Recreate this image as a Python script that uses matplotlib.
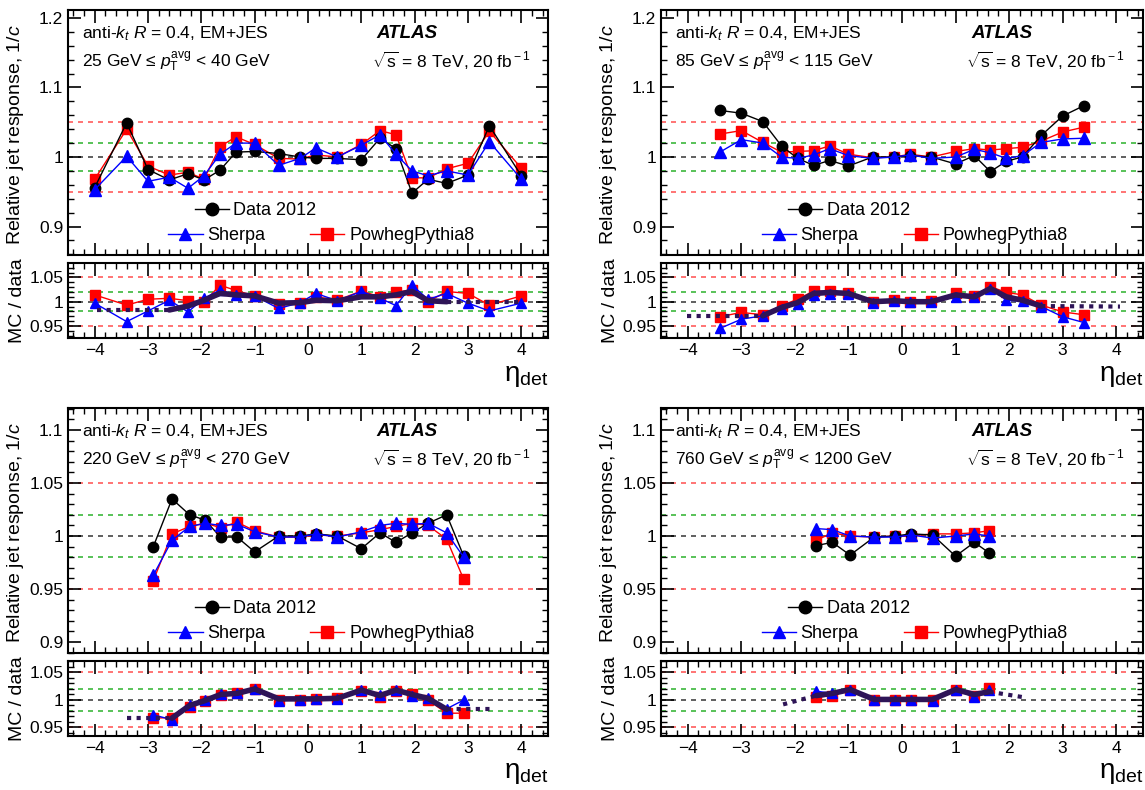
import numpy as np
import matplotlib
matplotlib.use("Agg")
import matplotlib.pyplot as plt
from matplotlib.ticker import MultipleLocator, FuncFormatter

plt.rcParams['font.family'] = ['Liberation Sans', 'DejaVu Sans']
plt.rcParams['mathtext.fontset'] = 'custom'
plt.rcParams['mathtext.rm'] = 'Liberation Sans'
plt.rcParams['mathtext.it'] = 'Liberation Sans:italic'
plt.rcParams['mathtext.bf'] = 'Liberation Sans:bold'

# ---------------------------
# data
# ---------------------------
# 25 < pT < 40 GeV
eta_a = [-4.0, -3.4, -3.0, -2.6, -2.25, -1.95, -1.65, -1.35, -1.0, -0.55, -0.15,
         0.15, 0.55, 1.0, 1.35, 1.65, 1.95, 2.25, 2.6, 3.0, 3.4, 4.0]
data_a = [0.956, 1.049, 0.982, 0.967, 0.976, 0.967, 0.981, 1.007, 1.008, 1.005, 1.000,
          0.998, 0.998, 0.996, 1.027, 1.012, 0.948, 0.968, 0.962, 0.974, 1.045, 0.973]
sherpa_a = [0.953, 1.001, 0.965, 0.971, 0.955, 0.973, 1.004, 1.020, 1.020, 0.988, 0.998,
            1.013, 1.000, 1.017, 1.032, 1.004, 0.980, 0.973, 0.980, 0.974, 1.022, 0.968]
powheg_a = [0.968, 1.040, 0.987, 0.974, 0.978, 0.968, 1.015, 1.029, 1.018, 0.998, 0.997,
            1.003, 1.000, 1.018, 1.038, 1.032, 0.970, 0.970, 0.983, 0.991, 1.037, 0.984]
r_sherpa_a = [0.997, 0.959, 0.981, 1.003, 0.979, 1.007, 1.024, 1.014, 1.012, 0.986, 0.998,
              1.017, 1.002, 1.021, 1.007, 0.992, 1.034, 1.005, 1.017, 0.997, 0.981, 0.997]
r_powheg_a = [1.014, 0.993, 1.005, 1.007, 1.002, 0.999, 1.034, 1.023, 1.012, 0.995, 0.997,
              1.010, 1.003, 1.022, 1.010, 1.019, 1.025, 1.000, 1.021, 1.017, 0.993, 1.012]
calib_eta_a = [-2.6, -2.25, -1.95, -1.65, -1.35, -1.0, -0.55, -0.15, 0.15, 0.55, 1.0,
               1.35, 1.65, 1.95, 2.25, 2.6]
calib_a = [0.983, 0.991, 1.003, 1.017, 1.014, 1.012, 0.997, 0.998, 1.003, 1.002, 1.010,
           1.010, 1.014, 1.021, 1.002, 1.000]
calib_ends_a = [(-3.95, 0.983), (4.0, 1.000)]
err_a = 0.006

# 85 < pT < 115 GeV
eta_b = [-3.4, -3.0, -2.6, -2.25, -1.95, -1.65, -1.35, -1.0, -0.55, -0.15,
         0.15, 0.55, 1.0, 1.35, 1.65, 1.95, 2.25, 2.6, 3.0, 3.4]
data_b = [1.067, 1.063, 1.051, 1.016, 0.998, 0.988, 0.995, 0.987, 1.000, 1.000,
          1.002, 1.000, 0.990, 1.002, 0.979, 0.994, 1.000, 1.031, 1.059, 1.074]
sherpa_b = [1.007, 1.025, 1.020, 1.000, 0.998, 1.003, 1.012, 1.002, 0.998, 1.000,
            1.003, 0.998, 1.000, 1.011, 1.006, 0.998, 1.002, 1.021, 1.026, 1.027]
powheg_b = [1.033, 1.038, 1.021, 1.007, 1.008, 1.009, 1.016, 1.004, 0.999, 1.000,
            1.004, 1.000, 1.008, 1.012, 1.010, 1.012, 1.014, 1.023, 1.036, 1.043]
r_sherpa_b = [0.945, 0.964, 0.971, 0.985, 0.995, 1.014, 1.016, 1.015, 0.998, 1.001,
              0.999, 0.999, 1.010, 1.009, 1.027, 1.003, 1.001, 0.990, 0.969, 0.957]
r_powheg_b = [0.969, 0.978, 0.973, 0.992, 1.005, 1.022, 1.021, 1.017, 0.999, 1.003,
              1.000, 1.001, 1.017, 1.012, 1.031, 1.019, 1.014, 0.993, 0.979, 0.973]
calib_eta_b = [-2.6, -2.25, -1.95, -1.65, -1.35, -1.0, -0.55, -0.15, 0.15, 0.55,
               1.0, 1.35, 1.65, 1.95, 2.25, 2.6]
calib_b = [0.971, 0.988, 0.998, 1.017, 1.019, 1.017, 1.000, 1.002, 1.000, 1.000,
           1.014, 1.010, 1.027, 1.010, 1.003, 0.991]
calib_ends_b = [(-4.02, 0.971), (4.07, 0.990)]
err_b = 0.002

# 220 < pT < 270 GeV
eta_c = [-2.9, -2.55, -2.22, -1.93, -1.64, -1.33, -1.0, -0.55, -0.15, 0.15, 0.55,
         1.0, 1.35, 1.65, 1.95, 2.25, 2.6, 2.92]
data_c = [0.990, 1.035, 1.020, 1.015, 0.999, 0.999, 0.985, 1.000, 1.000, 1.002, 1.000,
          0.988, 1.003, 0.994, 1.003, 1.012, 1.020, 0.981]
sherpa_c = [0.963, 0.996, 1.009, 1.012, 1.010, 1.011, 1.004, 0.999, 0.999, 1.002, 0.999,
            1.004, 1.010, 1.012, 1.011, 1.012, 1.003, 0.980]
powheg_c = [0.958, 1.002, 1.009, 1.012, 1.008, 1.013, 1.005, 0.999, 0.999, 1.001, 1.000,
            1.003, 1.006, 1.009, 1.012, 1.010, 0.997, 0.959]
r_sherpa_c = [0.973, 0.964, 0.990, 1.000, 1.010, 1.012, 1.020, 0.999, 1.000, 1.001, 1.001,
              1.018, 1.009, 1.019, 1.007, 1.003, 0.984, 1.000]
r_powheg_c = [0.967, 0.968, 0.988, 0.998, 1.009, 1.012, 1.020, 1.000, 1.000, 1.001, 1.003,
              1.016, 1.005, 1.016, 1.010, 1.000, 0.976, 0.976]
calib_eta_c = [-2.55, -2.22, -1.93, -1.64, -1.33, -1.0, -0.55, -0.15, 0.15, 0.55,
               1.0, 1.35, 1.65, 1.95, 2.25, 2.6]
calib_c = [0.967, 0.990, 0.999, 1.010, 1.012, 1.020, 1.002, 1.002, 1.002, 1.003,
           1.018, 1.008, 1.018, 1.010, 1.003, 0.983]
calib_ends_c = [(-3.39, 0.967), (3.43, 0.983)]
err_c = 0.003

# 760 < pT < 1200 GeV
eta_d = [-1.6, -1.3, -0.97, -0.52, -0.13, 0.17, 0.57, 1.0, 1.35, 1.63]
data_d = [0.991, 0.994, 0.982, 0.999, 1.000, 1.002, 1.001, 0.981, 0.994, 0.984]
sherpa_d = [1.007, 1.006, 1.000, 0.999, 0.999, 1.001, 0.998, 1.000, 1.002, 1.000]
powheg_d = [0.996, 1.003, 1.000, 0.999, 1.000, 1.000, 1.002, 1.002, 1.003, 1.005]
r_sherpa_d = [1.016, 1.012, 1.019, 1.000, 1.000, 1.000, 0.998, 1.019, 1.005, 1.019]
r_powheg_d = [1.005, 1.008, 1.019, 1.000, 1.000, 1.000, 1.000, 1.019, 1.007, 1.022]
calib_eta_d = eta_d
calib_d = [1.008, 1.012, 1.019, 1.001, 1.001, 1.001, 1.001, 1.019, 1.010, 1.015]
calib_ends_d = [(-2.22, 0.992), (2.27, 1.005)]
err_d = 0.002

pt_labels = [r'25 GeV ≤ $p_{\rm T}^{\rm avg}$ < 40 GeV',
             r'85 GeV ≤ $p_{\rm T}^{\rm avg}$ < 115 GeV',
             r'220 GeV ≤ $p_{\rm T}^{\rm avg}$ < 270 GeV',
             r'760 GeV ≤ $p_{\rm T}^{\rm avg}$ < 1200 GeV']

# ---------------------------
# style
# ---------------------------
W, H = 1145, 790
C_DATA = 'black'
C_SHERPA = '#0000ff'
C_POWHEG = '#ff0000'
C_CALIB = '#2e1457'
ref_lines = [(1.05, '#ff5c5c'), (1.02, '#3cb83c'), (1.0, '#444444'),
             (0.98, '#3cb83c'), (0.95, '#ff5c5c')]

fmt = FuncFormatter(lambda v, p: '%g' % round(v, 3))


def px_rect(x0, y0, x1, y1):
    return [x0 / W, 1 - y1 / H, (x1 - x0) / W, (y1 - y0) / H]


def style_axes(ax, major, minor):
    ax.set_xlim(-4.5, 4.5)
    ax.xaxis.set_major_locator(MultipleLocator(1))
    ax.xaxis.set_minor_locator(MultipleLocator(0.2))
    ax.yaxis.set_major_locator(MultipleLocator(major))
    ax.yaxis.set_minor_locator(MultipleLocator(minor))
    ax.yaxis.set_major_formatter(fmt)
    ax.tick_params(which='both', direction='in', top=True, right=True, labelsize=12.5)
    ax.tick_params(which='major', length=9, width=1.2)
    ax.tick_params(which='minor', length=4.5, width=1.0)
    for s in ax.spines.values():
        s.set_linewidth(1.5)
    for y, c in ref_lines:
        ax.axhline(y, color=c, ls=(0, (3, 3)), lw=1.2, zorder=1)


def draw_panel(x0, x1, ytop, main_ylim, main_major, ratio_ylim,
               eta, data, sherpa, powheg, r_sherpa, r_powheg,
               calib_eta, calib, calib_ends, err, ptlab):
    ax = fig.add_axes(px_rect(x0, ytop, x1, ytop + 245))
    axr = fig.add_axes(px_rect(x0, ytop + 253, x1, ytop + 328))

    style_axes(ax, main_major, main_major / 5)
    ax.set_ylim(*main_ylim)
    ax.tick_params(labelbottom=False)
    kw = dict(lw=1.0, elinewidth=1.0, capsize=0)
    ax.errorbar(eta, data, yerr=err, color=C_DATA, marker='o', ms=7.5, zorder=4, **kw)
    ax.errorbar(eta, powheg, yerr=err, color=C_POWHEG, marker='s', ms=7.5, zorder=3, **kw)
    ax.errorbar(eta, sherpa, yerr=err, color=C_SHERPA, marker='^', ms=8, zorder=5, **kw)
    ax.set_ylabel('Relative jet response, 1/$c$', fontsize=14)
    ax.yaxis.set_label_coords(-0.088, 0.49)

    ax.text(0.03, 0.905, r'anti-$k_t$ $R$ = 0.4, EM+JES', transform=ax.transAxes,
            fontsize=12.5, va='center')
    ax.text(0.03, 0.79, ptlab, transform=ax.transAxes, fontsize=12.5, va='center')
    ax.text(0.643, 0.905, 'ATLAS', transform=ax.transAxes, fontsize=13.5,
            fontweight='bold', fontstyle='italic', va='center')
    ax.text(0.633, 0.79, r'$\sqrt{\rm s}$ = 8 TeV, 20 fb$^{\rm -1}$',
            transform=ax.transAxes, fontsize=12.5, va='center')

    h_data = ax.plot([], [], color=C_DATA, marker='o', ms=9, lw=1)[0]
    h_sh = ax.plot([], [], color=C_SHERPA, marker='^', ms=9, lw=1)[0]
    h_pw = ax.plot([], [], color=C_POWHEG, marker='s', ms=9, lw=1)[0]
    lg_kw = dict(frameon=False, fontsize=13, handlelength=1.9, handletextpad=0.25,
                 borderpad=0, loc='center left')
    leg1 = ax.legend([h_data], ['Data 2012'], bbox_to_anchor=(0.245, 0.18), **lg_kw)
    ax.add_artist(leg1)
    ax.legend([h_sh, h_pw], ['Sherpa', 'PowhegPythia8'], ncol=2, columnspacing=2.5,
              bbox_to_anchor=(0.19, 0.078), **lg_kw)

    style_axes(axr, 0.05, 0.01)
    axr.set_ylim(*ratio_ylim)
    axr.plot(eta, r_powheg, color=C_POWHEG, marker='s', ms=7, lw=1, zorder=3)
    axr.plot(eta, r_sherpa, color=C_SHERPA, marker='^', ms=7.5, lw=1, zorder=4)
    axr.plot(calib_eta, calib, color=C_CALIB, lw=4, solid_joinstyle='round',
             solid_capstyle='round', zorder=5)
    (le, lv), (re, rv) = calib_ends
    axr.plot([le, calib_eta[0]], [lv, calib[0]], color=C_CALIB, lw=3, ls=(0, (1, 1.3)), zorder=5)
    axr.plot([calib_eta[-1], re], [calib[-1], rv], color=C_CALIB, lw=3, ls=(0, (1, 1.3)), zorder=5)
    axr.set_ylabel('MC / data', fontsize=14)
    axr.yaxis.set_label_coords(-0.088, 0.5)
    axr.text(1.0, -0.5, r'$\mathrm{\eta}_{\rm det}$', transform=axr.transAxes, fontsize=20,
             ha='right', va='center')


fig = plt.figure(figsize=(W / 100, H / 100), dpi=100)

draw_panel(68, 548, 10, (0.859, 1.2115), 0.1, (0.9253, 1.0796),
           eta_a, data_a, sherpa_a, powheg_a, r_sherpa_a, r_powheg_a,
           calib_eta_a, calib_a, calib_ends_a, err_a, pt_labels[0])
draw_panel(661, 1143, 10, (0.859, 1.2115), 0.1, (0.9253, 1.0796),
           eta_b, data_b, sherpa_b, powheg_b, r_sherpa_b, r_powheg_b,
           calib_eta_b, calib_b, calib_ends_b, err_b, pt_labels[1])
draw_panel(68, 548, 408, (0.8896, 1.1208), 0.05, (0.9345, 1.0709),
           eta_c, data_c, sherpa_c, powheg_c, r_sherpa_c, r_powheg_c,
           calib_eta_c, calib_c, calib_ends_c, err_c, pt_labels[2])
draw_panel(661, 1143, 408, (0.8896, 1.1208), 0.05, (0.9345, 1.0709),
           eta_d, data_d, sherpa_d, powheg_d, r_sherpa_d, r_powheg_d,
           calib_eta_d, calib_d, calib_ends_d, err_d, pt_labels[3])

fig.savefig('out.png', dpi=100)
